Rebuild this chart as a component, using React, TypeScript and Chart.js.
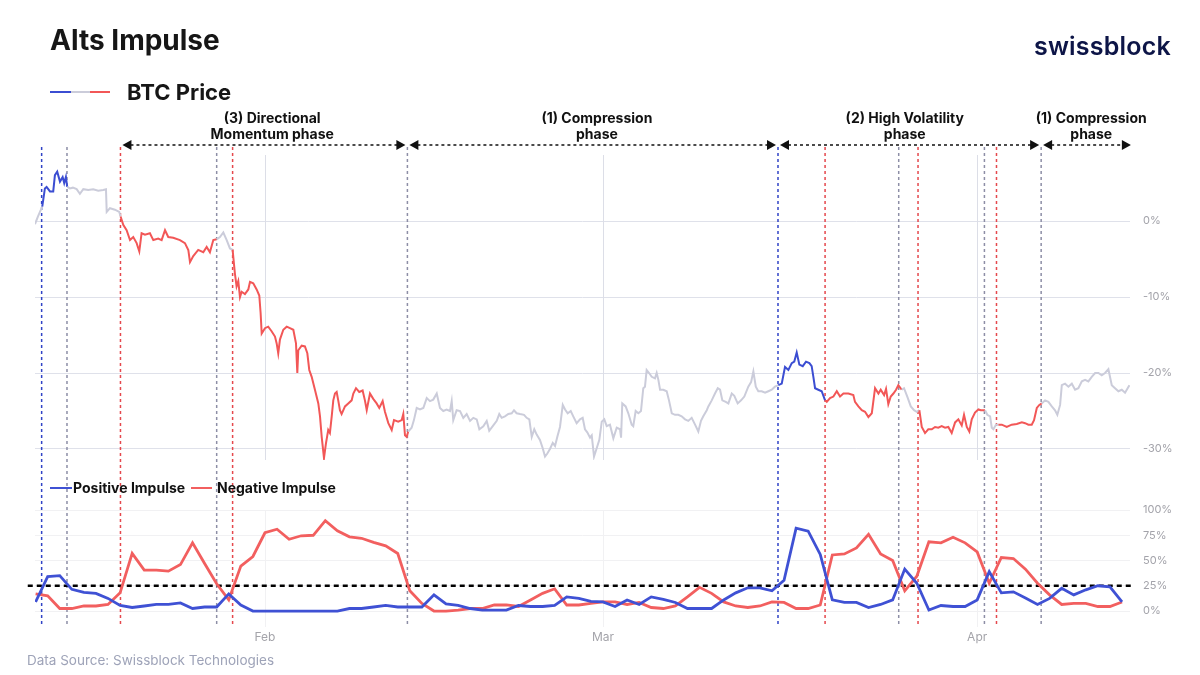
import React, { useEffect, useRef } from 'react';
import { Chart, registerables } from 'chart.js';

Chart.register(...registerables);

// price change vs. start (%), sampled off the chart; day = day-of-year (Feb 1 = 31)
const priceDays = [
  11.95, 12.19, 12.55, 12.77, 12.91, 13.19, 13.46, 13.6, 13.79, 14.02, 14.24, 14.37, 14.51, 14.62, 14.84, 15.09,
  15.4, 15.67, 15.95, 16.36, 16.77, 17.19, 17.6, 17.83, 17.89, 18.16, 18.57, 18.93, 19.04, 19.26, 19.54, 19.82,
  20.09, 20.37, 20.59, 20.78, 21.06, 21.47, 21.75, 22.16, 22.44, 22.72, 22.99, 23.4, 23.96, 24.37, 24.65, 24.79,
  25.06, 25.47, 25.89, 26.17, 26.44, 26.72, 27.0, 27.27, 27.55, 27.83, 28.1, 28.32, 28.51, 28.65, 28.79, 28.93,
  29.07, 29.34, 29.62, 29.76, 30.03, 30.31, 30.53, 30.64, 30.73, 31.0, 31.27, 31.55, 31.83, 31.97, 32.1, 32.24,
  32.52, 32.8, 33.07, 33.35, 33.57, 33.68, 33.76, 34.04, 34.31, 34.51, 34.67, 34.87, 35.14, 35.42, 35.56, 35.7,
  35.89, 36.05, 36.24, 36.38, 36.53, 36.66, 36.8, 36.94, 37.07, 37.21, 37.35, 37.63, 37.9, 38.18, 38.32, 38.54,
  38.81, 39.09, 39.28, 39.43, 39.7, 39.97, 40.25, 40.47, 40.75, 40.94, 41.22, 41.5, 41.69, 42.04, 42.33, 42.46,
  42.6, 42.74, 42.87, 43.15, 43.34, 43.57, 43.84, 44.12, 44.4, 44.67, 44.94, 45.23, 45.5, 45.77, 46.05, 46.33,
  46.47, 46.6, 46.88, 47.16, 47.43, 47.71, 47.99, 48.26, 48.54, 48.76, 49.09, 49.37, 49.58, 49.87, 50.2, 50.41,
  50.61, 50.88, 51.16, 51.44, 51.63, 51.85, 52.13, 52.46, 52.68, 52.9, 53.1, 53.31, 53.51, 53.78, 54.01, 54.2,
  54.39, 54.61, 54.84, 55.03, 55.22, 55.44, 55.67, 55.86, 56.08, 56.33, 56.54, 56.82, 57.1, 57.32, 57.51, 57.7,
  57.93, 58.07, 58.26, 58.48, 58.7, 58.9, 59.11, 59.31, 59.58, 59.86, 60.14, 60.41, 60.5, 60.6, 60.88, 61.1,
  61.38, 61.51, 61.71, 61.93, 62.15, 62.34, 62.48, 62.62, 62.82, 63.04, 63.31, 63.45, 63.59, 63.73, 64.0, 64.28,
  64.47, 64.7, 64.97, 65.24, 65.52, 65.8, 66.07, 66.35, 66.63, 66.9, 67.12, 67.31, 67.6, 67.73, 68.01, 68.28,
  68.51, 68.7, 68.89, 69.17, 69.39, 69.67, 69.88, 70.16, 70.44, 70.71, 71.04, 71.27, 71.46, 71.66, 71.87, 72.15,
  72.43, 72.7, 72.98, 73.25, 73.53, 73.81, 74.08, 74.36, 74.64, 74.85, 75.05, 75.27, 75.55, 75.82, 76.1, 76.29,
  76.43, 76.57, 76.84, 77.12, 77.4, 77.54, 77.81, 78.09, 78.37, 78.64, 78.92, 79.33, 79.74, 79.88, 80.16, 80.44,
  80.71, 80.99, 81.27, 81.54, 81.82, 82.01, 82.29, 82.45, 82.64, 82.84, 83.06, 83.28, 83.47, 83.75, 83.94, 84.21,
  84.5, 84.77, 84.99, 85.21, 85.41, 85.68, 85.95, 86.24, 86.51, 86.78, 87.06, 87.34, 87.61, 87.89, 88.17, 88.44,
  88.72, 88.91, 89.14, 89.35, 89.55, 89.82, 90.1, 90.3, 90.65, 90.84, 91.07, 91.21, 91.34, 91.56, 91.76, 92.04,
  92.45, 92.86, 93.28, 93.7, 93.97, 94.24, 94.52, 94.71, 94.94, 95.15, 95.35, 95.62, 95.9, 96.18, 96.45, 96.64,
  96.87, 97.01, 97.28, 97.56, 97.84, 98.11, 98.38, 98.67, 98.94, 99.21, 99.49, 99.77, 100.04, 100.32, 100.59, 100.87,
  101.15, 101.42, 101.7, 101.98, 102.25, 102.61,
];
const priceChange = [
  -0.4, 0.6, 1.9, 4.3, 4.5, 3.9, 3.9, 6.05, 6.5, 5.2, 5.8, 5.0, 5.8, 4.5, 4.3, 4.4,
  4.2, 3.6, 4.2, 4.1, 4.2, 4.0, 4.1, 4.2, 1.2, 1.7, 1.5, 1.2, 0.6, -0.5, -1.2, -2.5,
  -2.1, -2.9, -4.0, -1.6, -1.8, -1.6, -2.5, -2.3, -2.5, -1.2, -2.1, -2.2, -2.5, -2.9, -3.8, -5.4,
  -4.6, -3.8, -4.1, -3.4, -4.1, -2.5, -2.4, -2.1, -1.5, -2.5, -3.6, -3.8, -6.9, -8.6, -7.9, -10.0,
  -9.3, -9.6, -9.0, -8.0, -8.2, -9.0, -9.8, -12.1, -14.8, -14.1, -13.9, -14.5, -15.2, -16.1, -17.4, -15.6,
  -14.3, -13.9, -14.1, -14.3, -16.1, -20.0, -17.0, -16.4, -16.5, -17.4, -19.6, -20.5, -22.2, -24.0, -25.7, -28.4,
  -31.2, -29.3, -27.5, -27.9, -25.7, -23.6, -22.7, -22.5, -23.6, -24.9, -25.4, -24.4, -24.0, -23.6, -22.7, -22.0,
  -22.5, -22.3, -23.6, -24.9, -22.7, -23.4, -24.0, -24.6, -23.7, -25.1, -26.6, -27.5, -26.2, -26.4, -26.2, -25.4,
  -28.2, -28.4, -27.7, -27.2, -26.2, -24.6, -24.8, -24.6, -23.3, -23.7, -23.5, -22.7, -24.6, -25.0, -24.8, -25.0,
  -23.7, -26.2, -24.9, -25.0, -25.9, -25.4, -26.3, -25.9, -26.1, -27.4, -27.0, -26.3, -27.6, -27.0, -26.3, -25.4,
  -25.9, -25.7, -25.4, -25.3, -24.9, -25.3, -25.4, -25.5, -25.9, -26.1, -28.4, -27.4, -28.1, -28.8, -29.9, -31.0,
  -30.6, -30.0, -29.2, -29.6, -28.4, -27.1, -24.2, -24.8, -25.3, -25.0, -25.7, -26.6, -26.1, -25.9, -27.4, -27.8,
  -28.5, -28.2, -31.0, -29.9, -28.8, -26.4, -26.1, -27.0, -26.8, -28.6, -27.2, -27.4, -28.5, -24.0, -24.4, -25.3,
  -26.8, -27.0, -25.0, -25.3, -25.0, -22.0, -21.8, -19.6, -20.0, -20.5, -20.7, -20.0, -20.9, -22.2, -22.2, -22.4,
  -23.6, -25.3, -25.5, -25.5, -25.7, -26.1, -26.3, -25.9, -26.8, -27.7, -26.3, -25.7, -24.9, -24.4, -23.6, -22.7,
  -22.0, -22.2, -23.6, -23.8, -24.0, -22.7, -23.0, -24.0, -23.6, -23.1, -21.8, -21.2, -19.8, -21.8, -22.4, -22.4,
  -22.6, -22.4, -22.2, -21.8, -21.6, -21.4, -19.2, -19.6, -18.7, -18.5, -17.3, -18.9, -19.1, -18.5, -18.7, -19.1,
  -20.5, -22.0, -22.2, -22.4, -23.6, -23.8, -23.3, -23.1, -22.4, -23.1, -22.7, -22.7, -22.9, -23.8, -24.4, -24.9,
  -25.1, -25.8, -25.3, -22.0, -22.7, -22.2, -22.9, -22.1, -24.1, -23.1, -22.7, -22.2, -21.6, -22.2, -22.0, -23.1,
  -24.4, -24.9, -25.1, -24.9, -27.1, -27.9, -27.4, -27.4, -27.1, -27.2, -27.0, -27.2, -27.1, -27.9, -26.5, -26.1,
  -26.9, -25.5, -27.1, -27.7, -26.1, -25.2, -24.8, -24.9, -24.9, -25.5, -25.7, -27.2, -27.4, -26.8, -26.8, -26.8,
  -27.1, -26.8, -26.7, -26.5, -26.6, -26.8, -26.8, -26.2, -24.6, -24.2, -24.0, -23.6, -23.8, -24.4, -24.9, -25.5,
  -24.2, -21.6, -21.4, -21.8, -21.4, -22.2, -22.0, -21.1, -20.9, -21.1, -20.5, -20.0, -20.0, -20.3, -20.0, -19.5,
  -21.6, -22.0, -22.4, -22.2, -22.6, -21.6,
];

// daily impulse readings (%), Jan 13 .. Apr 13
const impulseStartDay = 12;
const positiveImpulse = [
  9, 34, 35, 21.5, 18.5, 17.5, 12.5, 5.5, 3.5, 5, 6.5, 6.5, 8, 2.5, 4, 4,
  17, 6, 0, 0, 0, 0, 0, 0, 0, 0, 2.5, 2.5, 4, 5.5, 4, 4,
  4, 16, 7, 5.5, 2.5, 1, 1, 1, 5.5, 4.5, 4.5, 5.5, 14, 12.5, 9.5, 9,
  4.5, 11, 6.5, 14, 11.5, 8.5, 2.5, 2.5, 2.5, 11, 18, 23, 23, 20, 30.5, 82,
  79, 56, 11, 8.5, 8.5, 3.5, 6.5, 11, 41.5, 27.5, 1, 5.5, 4.5, 4.5, 11, 39,
  18, 19, 13, 6.5, 12.5, 22.5, 16, 21, 25, 24, 9,
];
const negativeImpulse = [
  17, 15, 2.5, 2.5, 5, 5, 6.5, 18, 57, 40.5, 40.5, 39.5, 46, 67.5, 47, 27,
  11, 44.5, 54, 77.5, 81, 71, 74.5, 75, 89.5, 79.5, 73.5, 72, 68, 64.5, 57, 20,
  7.5, 0, 0, 1, 2.5, 2.5, 6, 6, 4.5, 11, 17.5, 22, 6, 6, 7.5, 9,
  9, 6.5, 8.5, 3.5, 2.5, 5, 14, 23.5, 17.5, 9, 5, 3.5, 5, 9, 8.5, 2.5,
  2.5, 6, 55.5, 56.5, 62.5, 76, 56.5, 50, 20, 34.5, 68.5, 67.5, 73, 67.5, 58.5, 27.5,
  53, 52, 41.5, 27.5, 16, 6.5, 7.5, 7.5, 4.5, 4.5, 9,
];
const impulseThreshold = 25;

// signal switches (day, kind)
const signalDays = [12.5, 14.6, 19.03, 27.0, 28.32, 42.8, 73.5, 77.4, 83.5, 85.1, 90.6, 91.6, 95.3];
const signalKinds = ['pos', 'flat', 'neg', 'flat', 'neg', 'flat', 'pos', 'neg', 'flat', 'neg', 'flat', 'neg', 'flat'];

// phase brackets
const phaseStart = [19.03, 42.8, 73.5, 95.3];
const phaseEnd = [42.8, 73.5, 95.3, 102.9];
const phaseLabelDay = [31.6, 58.5, 84.0, 99.45];
const phaseLabels = [
  ['(3) Directional', 'Momentum phase'],
  ['(1) Compression', 'phase'],
  ['(2) High Volatility', 'phase'],
  ['(1) Compression', 'phase'],
];

const monthDays = [31, 59, 90];
const monthLabels = ['Feb', 'Mar', 'Apr'];
const priceTicks = [0, -10, -20, -30];
const impulseTicks = [0, 25, 50, 75, 100];

const PRICE_COLORS: Record<string, string> = { pos: '#3b4dd2', neg: '#f25757', flat: '#cbccda' };
const SIGNAL_COLORS: Record<string, string> = { pos: '#3043c6', neg: '#e5484d', flat: '#8d8ea6' };
const FONT = "Inter, 'Noto Sans', sans-serif";

const kindAt = (d: number) => {
  let k = 'flat';
  for (let i = 0; i < signalDays.length; i++) {
    if (d >= signalDays[i] - 0.001) k = signalKinds[i];
  }
  return k;
};

const overlayPlugin = {
  id: 'overlay',
  beforeDatasetsDraw(chart: any) {
    const { ctx, scales } = chart;
    const x = scales.x, y = scales.y, y2 = scales.y2;
    ctx.save();
    ctx.lineWidth = 1;
    // month gridlines, drawn per panel
    monthDays.forEach((d) => {
      const px = Math.round(x.getPixelForValue(d)) + 0.5;
      ctx.strokeStyle = '#dcdee7';
      ctx.beginPath();
      ctx.moveTo(px, y.top);
      ctx.lineTo(px, y.bottom);
      ctx.stroke();
      ctx.strokeStyle = '#f1f1f3';
      ctx.beginPath();
      ctx.moveTo(px, y2.getPixelForValue(100));
      ctx.lineTo(px, y2.bottom);
      ctx.stroke();
    });
    // signal switches
    ctx.lineWidth = 1.5;
    ctx.setLineDash([3, 3]);
    signalDays.forEach((d, i) => {
      const px = x.getPixelForValue(d);
      ctx.strokeStyle = SIGNAL_COLORS[signalKinds[i]];
      ctx.beginPath();
      ctx.moveTo(px, 147);
      ctx.lineTo(px, y2.bottom - 1);
      ctx.stroke();
    });
    ctx.restore();
  },
  afterDraw(chart: any) {
    const { ctx, scales } = chart;
    const x = scales.x;
    const ay = 145;
    ctx.save();
    phaseStart.forEach((s, i) => {
      const x0 = x.getPixelForValue(s) + 2;
      const x1 = x.getPixelForValue(phaseEnd[i]) - 2;
      ctx.strokeStyle = '#111';
      ctx.lineWidth = 1.5;
      ctx.setLineDash([3, 3]);
      ctx.beginPath();
      ctx.moveTo(x0 + 8, ay);
      ctx.lineTo(x1 - 8, ay);
      ctx.stroke();
      ctx.setLineDash([]);
      ctx.fillStyle = '#111';
      ctx.beginPath();
      ctx.moveTo(x0, ay);
      ctx.lineTo(x0 + 9, ay - 5);
      ctx.lineTo(x0 + 9, ay + 5);
      ctx.closePath();
      ctx.fill();
      ctx.beginPath();
      ctx.moveTo(x1, ay);
      ctx.lineTo(x1 - 9, ay - 5);
      ctx.lineTo(x1 - 9, ay + 5);
      ctx.closePath();
      ctx.fill();
      const cx = x.getPixelForValue(phaseLabelDay[i]);
      ctx.font = `700 14px ${FONT}`;
      ctx.textAlign = 'center';
      ctx.textBaseline = 'middle';
      ctx.fillText(phaseLabels[i][0], cx, 119);
      ctx.fillText(phaseLabels[i][1], cx, 135);
    });
    ctx.restore();
  },
};

const App: React.FC = () => {
  const chartRef = useRef<HTMLCanvasElement | null>(null);
  const chartInstance = useRef<Chart | null>(null);

  useEffect(() => {
    if (!chartRef.current) return;
    if (chartInstance.current) chartInstance.current.destroy();
    const ctx = chartRef.current.getContext('2d');
    if (!ctx) return;

    const priceData = priceDays.map((d, i) => ({ x: d, y: priceChange[i] }));
    const posData = positiveImpulse.map((v, i) => ({ x: impulseStartDay + i, y: v }));
    const negData = negativeImpulse.map((v, i) => ({ x: impulseStartDay + i, y: v }));
    const lastDay = phaseEnd[phaseEnd.length - 1];

    chartInstance.current = new Chart(ctx, {
      type: 'line',
      data: {
        datasets: [
          {
            label: 'BTC Price',
            data: priceData,
            yAxisID: 'y',
            borderWidth: 2,
            pointRadius: 0,
            borderColor: PRICE_COLORS.flat,
            segment: { borderColor: (c: any) => PRICE_COLORS[kindAt(c.p0.parsed.x)] },
          },
          {
            label: 'Positive Impulse',
            data: posData,
            yAxisID: 'y2',
            borderColor: '#3f51d4',
            borderWidth: 2.8,
            pointRadius: 0,
          },
          {
            label: 'Negative Impulse',
            data: negData,
            yAxisID: 'y2',
            borderColor: '#f25f5f',
            borderWidth: 2.8,
            pointRadius: 0,
          },
          {
            label: 'Threshold',
            data: [
              { x: 11.35, y: impulseThreshold },
              { x: lastDay, y: impulseThreshold },
            ],
            yAxisID: 'y2',
            borderColor: '#000',
            borderWidth: 2.5,
            borderDash: [5, 4],
            pointRadius: 0,
            clip: false as any,
          },
        ],
      },
      options: {
        responsive: false,
        animation: false,
        layout: { padding: { top: 155, left: 35, right: 0, bottom: 28 } },
        plugins: { legend: { display: false }, tooltip: { enabled: false } },
        scales: {
          x: {
            type: 'linear',
            min: 11.95,
            max: 102.66,
            grid: { display: false, drawTicks: false },
            border: { display: false },
            afterBuildTicks: (s: any) => {
              s.ticks = monthDays.map((v) => ({ value: v }));
            },
            afterFit: (s: any) => {
              s.height = 20;
            },
            ticks: {
              padding: 3,
              color: '#a4a4aa',
              font: { family: FONT, size: 12 },
              callback: (v: any) => monthLabels[monthDays.indexOf(Number(v))] ?? '',
            },
          },
          y: {
            type: 'linear',
            position: 'right',
            stack: 'panels',
            stackWeight: 305,
            min: -31.45,
            max: 8.7,
            border: { display: false },
            grid: { color: '#dfe1ea', drawTicks: false },
            afterBuildTicks: (s: any) => {
              s.ticks = priceTicks.map((v) => ({ value: v }));
            },
            afterFit: (s: any) => {
              s.width = 70;
            },
            ticks: {
              padding: 13,
              color: '#a3a3aa',
              font: { family: FONT, size: 11 },
              callback: (v: any) => `${v}%`,
            },
          },
          y2: {
            type: 'linear',
            position: 'right',
            stack: 'panels',
            stackWeight: 167,
            min: -15.8,
            max: 149.5,
            border: { display: false },
            grid: { color: '#f1f1f3', drawTicks: false },
            afterBuildTicks: (s: any) => {
              s.ticks = impulseTicks.map((v) => ({ value: v }));
            },
            afterFit: (s: any) => {
              s.width = 70;
            },
            ticks: {
              padding: 13,
              color: '#a3a3aa',
              font: { family: FONT, size: 11 },
              callback: (v: any) => `${v}%`,
            },
          },
        },
      } as any,
      plugins: [overlayPlugin],
    });

    return () => {
      if (chartInstance.current) {
        chartInstance.current.destroy();
        chartInstance.current = null;
      }
    };
  }, []);

  const line = (left: number, width: number, top: number, color: string) => (
    <div style={{ position: 'absolute', left, top: top - 1.25, width, height: 2.5, background: color }} />
  );

  return (
    <div style={{ position: 'absolute', left: 0, top: 0, width: 1200, height: 675, background: '#fff', fontFamily: FONT }}>
      <canvas ref={chartRef} width={1200} height={675} style={{ position: 'absolute', left: 0, top: 0 }} />
      <div style={{ position: 'absolute', left: 50, top: 22, fontSize: 28, fontWeight: 700, color: '#161616', lineHeight: '36px' }}>
        Alts Impulse
      </div>
      <div style={{ position: 'absolute', left: 1034, top: 30, fontSize: 25, fontWeight: 600, color: '#0d1547', lineHeight: '32px', letterSpacing: 0.2 }}>
        swissblock
      </div>
      {line(50, 21, 92, PRICE_COLORS.pos)}
      {line(71, 19, 92, PRICE_COLORS.flat)}
      {line(90, 20, 92, PRICE_COLORS.neg)}
      <div style={{ position: 'absolute', left: 127, top: 78, fontSize: 22, fontWeight: 700, color: '#161616', lineHeight: '28px' }}>
        BTC Price
      </div>
      {line(50, 22, 488, '#3f51d4')}
      <div style={{ position: 'absolute', left: 73, top: 479, fontSize: 14, fontWeight: 700, color: '#111', lineHeight: '18px' }}>
        Positive Impulse
      </div>
      {line(191, 21, 488, '#f25f5f')}
      <div style={{ position: 'absolute', left: 217, top: 479, fontSize: 14, fontWeight: 700, color: '#111', lineHeight: '18px' }}>
        Negative Impulse
      </div>
      <div style={{ position: 'absolute', left: 27, top: 651, fontSize: 13.5, color: '#9ea3b8', lineHeight: '18px' }}>
        Data Source: Swissblock Technologies
      </div>
    </div>
  );
};

export default App;
